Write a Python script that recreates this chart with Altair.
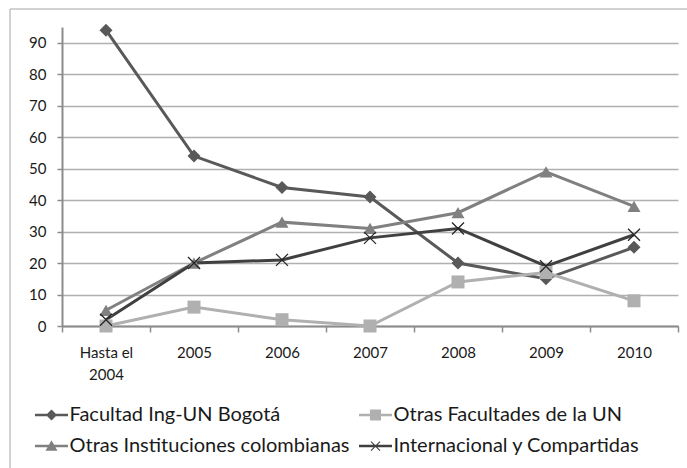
import altair as alt
import pandas as pd

categories = ["Hasta el 2004", "2005", "2006", "2007", "2008", "2009", "2010"]
series = ["Facultad Ing-UN Bogotá", "Otras Facultades de la UN",
          "Otras Instituciones colombianas", "Internacional y Compartidas"]
facultad = [94, 54, 44, 41, 20, 15, 25]
otras_fac = [0, 6, 2, 0, 14, 17, 8]
otras_inst = [5, 20, 33, 31, 36, 49, 38]
internacional = [2, 20, 21, 28, 31, 19, 29]
y_ticks = [0, 10, 20, 30, 40, 50, 60, 70, 80, 90]

colors = ["#595959", "#b0b0b0", "#808080", "#404040"]
FONT = "Lato"

rows = []
for s, vals in zip(series, [facultad, otras_fac, otras_inst, internacional]):
    for c, v in zip(categories, vals):
        rows.append({"series": s, "category": c, "value": v})
df = pd.DataFrame(rows)

x_enc = alt.X(
    "category:N", sort=categories, bandPosition=0.5, title=None,
    scale=alt.Scale(type="band", domain=categories, paddingInner=0, paddingOuter=0),
    axis=alt.Axis(tickBand="extent", labelAngle=0, domainColor="#8c8c8c", domainWidth=2,
                  tickColor="#8c8c8c", tickWidth=1.5, tickSize=6, grid=False,
                  labelFont=FONT, labelFontSize=15, labelColor="#1a1a1a", labelPadding=13,
                  labelLineHeight=22,
                  labelExpr="datum.value == 'Hasta el 2004' ? ['Hasta el', '2004'] : datum.label"),
)
y_enc = alt.Y(
    "value:Q", title=None,
    scale=alt.Scale(domain=[0, 95], nice=False),
    axis=alt.Axis(values=y_ticks, grid=True, gridColor="#b0b0b0", gridWidth=1.5,
                  domainColor="#8c8c8c", domainWidth=2, tickColor="#8c8c8c", tickWidth=1.5,
                  tickSize=5, labelFont=FONT, labelFontSize=15, labelColor="#1a1a1a",
                  labelPadding=11),
)

base = alt.Chart(df)

lines = base.mark_line(strokeWidth=3).encode(
    x=x_enc, y=y_enc,
    color=alt.Color("series:N", scale=alt.Scale(domain=series, range=colors), legend=None),
)

filled_pts = base.transform_filter(
    alt.datum.series != series[3]
).mark_point(filled=True, size=169, opacity=1).encode(
    x=x_enc, y=y_enc,
    color=alt.Color("series:N", scale=alt.Scale(domain=series, range=colors), legend=None),
    shape=alt.Shape("series:N", scale=alt.Scale(domain=series[:3],
                    range=["diamond", "square", "triangle-up"]), legend=None),
)

cross_pts = base.transform_filter(
    alt.datum.series == series[3]
).mark_point(shape="M-1,-1L1,1M-1,1L1,-1", size=144, filled=False, strokeWidth=1.3,
             color="#262626", opacity=1).encode(x=x_enc, y=y_enc)

line_part = "M-1.1,-0.09L1.1,-0.09L1.1,0.09L-1.1,0.09Z"
legend_paths = [
    line_part + "M0,-0.37L0.37,0L0,0.37L-0.37,0Z",
    line_part + "M-0.37,-0.37L0.37,-0.37L0.37,0.37L-0.37,0.37Z",
    line_part + "M0,-0.38L0.4,0.32L-0.4,0.32Z",
    line_part + "M-0.275,-0.325L0.325,0.275L0.275,0.325L-0.325,-0.275Z"
                "M-0.325,0.275L0.275,-0.325L0.325,-0.275L-0.275,0.325Z",
]

leg = alt.Legend(title=None, orient="none", legendX=-25.5, legendY=373, columns=2,
                 direction="horizontal",
                 columnPadding=9, rowPadding=6, symbolSize=900, symbolStrokeWidth=0,
                 labelFont=FONT, labelFontSize=20, labelColor="#1a1a1a", labelOffset=3,
                 labelLimit=500, padding=0, symbolOpacity=1)

legend_layer = alt.Chart(df).transform_filter("false").mark_point(
    filled=True, opacity=1).encode(
    shape=alt.Shape("series:N", scale=alt.Scale(domain=series, range=legend_paths), legend=leg),
    color=alt.Color("series:N", scale=alt.Scale(domain=series, range=colors), legend=leg),
)

frame_data = alt.Data(values=[{"k": 1}])
frame_top = alt.Chart(frame_data).mark_rule(color="#a6a6a6", strokeWidth=1).encode(
    x=alt.value(-52), x2=alt.value(700), y=alt.value(-18))
frame_left = alt.Chart(frame_data).mark_rule(color="#a6a6a6", strokeWidth=1).encode(
    x=alt.value(-52), y=alt.value(-18), y2=alt.value(500))

chart = alt.layer(frame_top, frame_left, lines, filled_pts, cross_pts, legend_layer).resolve_scale(
    color="independent", shape="independent"
).properties(
    width=616, height=299,
    autosize=alt.AutoSizeParams(type="none"),
    padding={"left": 62, "top": 27, "right": 9, "bottom": 142},
    background="white",
).configure_view(stroke=None)

chart.save("out.html", embed_options={"renderer": "svg", "actions": False})
